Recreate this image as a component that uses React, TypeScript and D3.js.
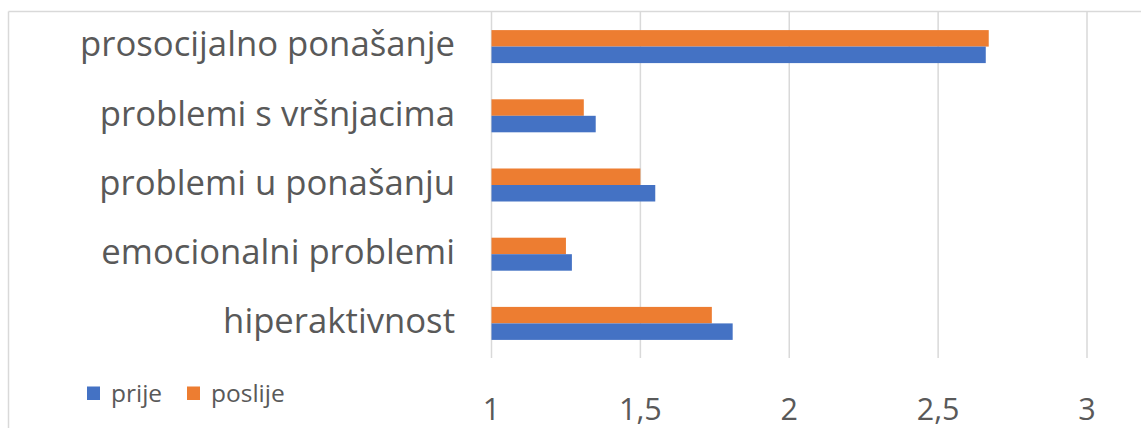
import React from "react";
import * as d3 from "d3";

// values
const categories = [
  "prosocijalno ponašanje",
  "problemi s vršnjacima",
  "problemi u ponašanju",
  "emocionalni problemi",
  "hiperaktivnost",
];
const prije = [2.66, 1.35, 1.55, 1.27, 1.81];
const poslije = [2.67, 1.31, 1.5, 1.25, 1.74];
const xTicks = [1, 1.5, 2, 2.5, 3];
const seriesNames = ["poslije", "prije"];
const legendNames = ["prije", "poslije"];

const colors: Record<string, string> = {
  prije: "#4472C4",
  poslije: "#ED7D31",
};

const width = 1141;
const height = 428;
const font = "'Open Sans', sans-serif";
const textColor = "#595959";
const gridColor = "#D9D9D9";

const App = () => {
  const x = d3.scaleLinear().domain([1, 3]).range([491.5, 1087]);
  const y = d3.scaleBand<string>().domain(categories).range([12, 358]);
  const inner = d3
    .scaleBand<string>()
    .domain(seriesNames)
    .range([-16.5, 16.5]);

  const values: Record<string, number[]> = { prije, poslije };

  return (
    <svg
      width={width}
      height={height}
      style={{ position: "absolute", left: 0, top: 0, background: "#fff" }}
    >
      {/* chart frame */}
      <line x1={8.5} x2={8.5} y1={11.5} y2={height} stroke={gridColor} strokeWidth={1.5} />
      <line x1={8.5} x2={width} y1={11.5} y2={11.5} stroke={gridColor} strokeWidth={1.5} />

      {/* gridlines */}
      {xTicks.map((t) => (
        <line
          key={t}
          x1={x(t)}
          x2={x(t)}
          y1={12}
          y2={358}
          stroke={gridColor}
          strokeWidth={1.5}
        />
      ))}

      {/* bars */}
      {categories.map((c, i) => {
        const cy = (y(c) as number) + y.bandwidth() / 2;
        return (
          <g key={c} transform={`translate(0,${cy})`}>
            {seriesNames.map((s) => (
              <rect
                key={s}
                x={x(1)}
                y={inner(s) as number}
                width={x(values[s][i]) - x(1)}
                height={inner.bandwidth()}
                fill={colors[s]}
              />
            ))}
            <text
              x={455}
              y={0}
              dy="0.28em"
              textAnchor="end"
              fontFamily={font}
              fontSize={34.7}
              fill={textColor}
            >
              {c}
            </text>
          </g>
        );
      })}

      {/* x tick labels */}
      {xTicks.map((t) => (
        <text
          key={t}
          x={x(t)}
          y={420}
          textAnchor="middle"
          fontFamily={font}
          fontSize={30.5}
          fill={textColor}
        >
          {d3.format(".1~f")(t).replace(".", ",")}
        </text>
      ))}

      {/* legend */}
      {legendNames.map((s, i) => {
        const lx = i === 0 ? 87 : 187;
        return (
          <g key={s}>
            <rect x={lx} y={386.5} width={13} height={13.5} fill={colors[s]} />
            <text
              x={lx + 24}
              y={401.5}
              fontFamily={font}
              fontSize={24.5}
              fill={textColor}
            >
              {s}
            </text>
          </g>
        );
      })}
    </svg>
  );
};

export default App;
